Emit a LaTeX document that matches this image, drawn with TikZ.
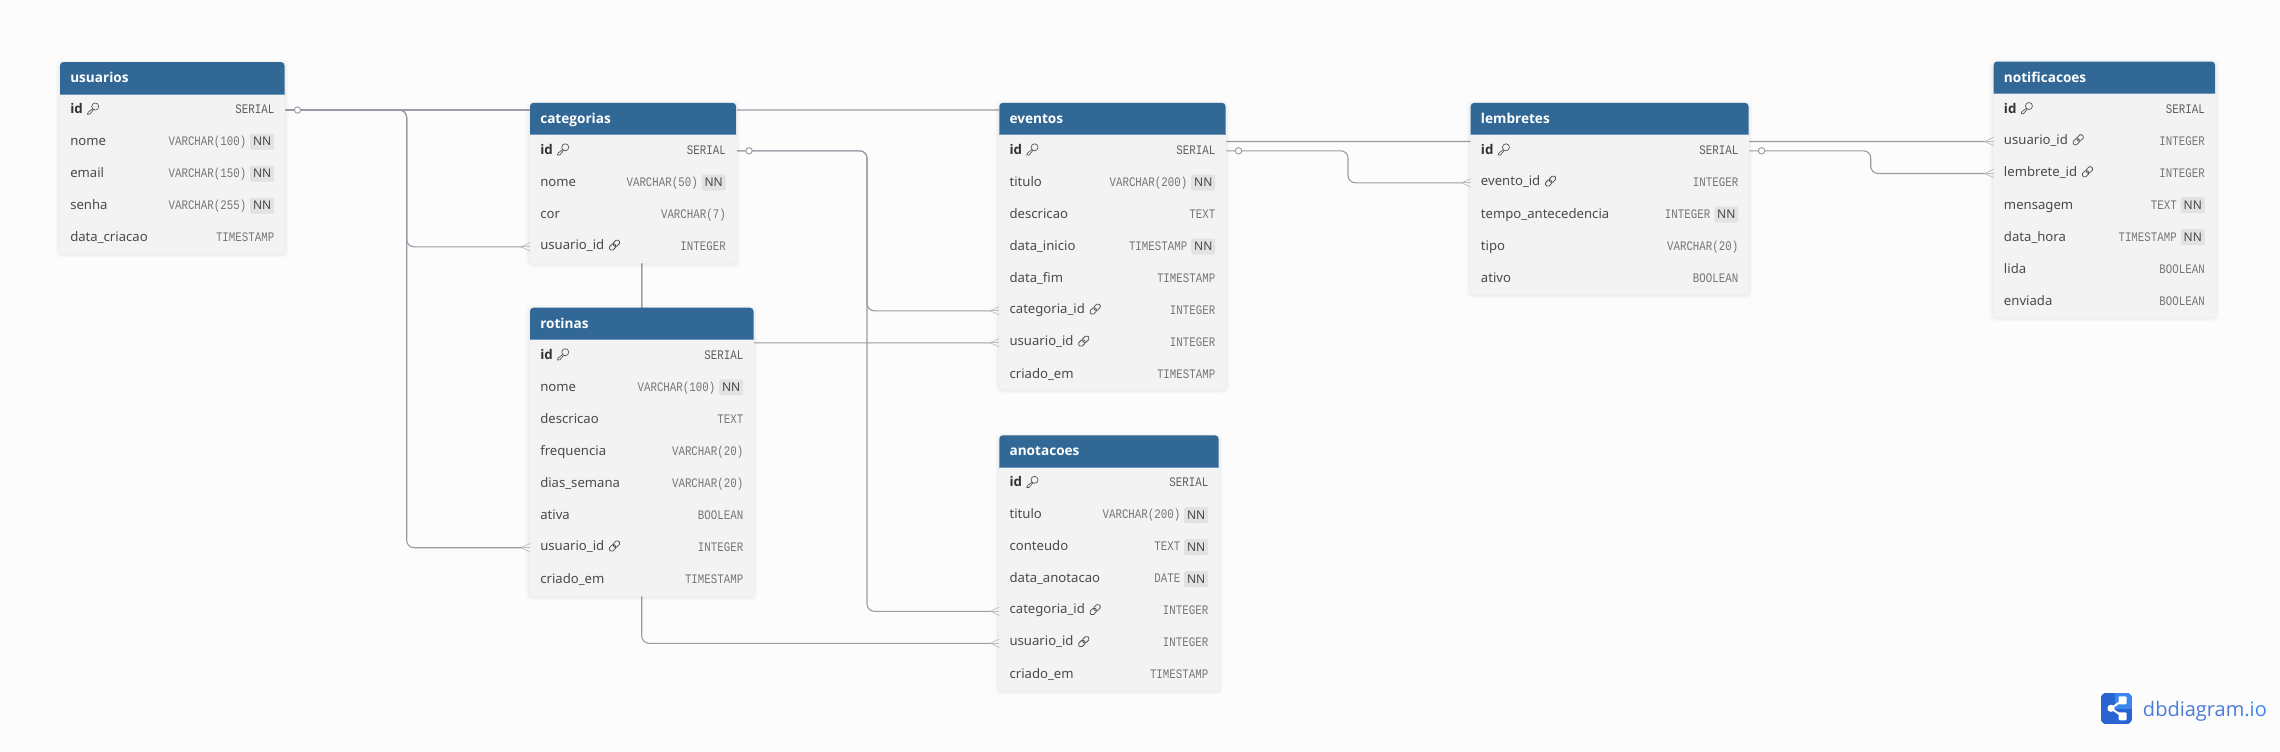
\documentclass[tikz,border=0pt]{standalone}
\usepackage{fontspec}
\setmainfont{Noto Sans}
\newfontfamily\monof[FakeStretch=0.825]{Liberation Mono}
\newfontfamily\logof{Open Sans}
\newfontfamily\boldf[BoldFont={Open Sans Bold}]{Open Sans}
\usetikzlibrary{calc,backgrounds}
\definecolor{canvas}{HTML}{FCFCFC}
\definecolor{hdr}{HTML}{316896}
\definecolor{hdrline}{HTML}{6F97BA}
\definecolor{panelc}{HTML}{F3F3F3}
\definecolor{wire}{HTML}{9A9AA4}
\definecolor{namec}{HTML}{4A4A4A}
\definecolor{typec}{HTML}{767676}
\definecolor{keyc}{HTML}{5E5E5E}
\definecolor{badge}{HTML}{E2E2E2}
\definecolor{logoa}{HTML}{2A64D2}
\definecolor{logob}{HTML}{3C86F2}
\tikzset{
  panelbox/.style={fill=panelc,rounded corners=3.5*0.75pt,inner sep=0pt,anchor=north west},
  rowbox/.style={inner sep=0pt,anchor=west,minimum height=24pt},
  tabletitle/.style={inner sep=0pt,anchor=base west,text=white,font=\boldf\bfseries\fontsize{10.2}{12}\selectfont},
  fieldname/.style={inner sep=0pt,anchor=base west,text=namec,font=\fontsize{9.85}{12}\selectfont},
  fieldkey/.style={inner sep=0pt,anchor=base west,text=black!80,font=\boldf\bfseries\fontsize{10}{12}\selectfont},
  fieldtype/.style={inner sep=0pt,anchor=base east,text=typec,font=\monof\fontsize{9.8}{12}\selectfont},
  keytype/.style={fieldtype,text=keyc},
  nnbadge/.style={inner sep=0pt,fill=badge,rounded corners=1.5pt,minimum width=18pt,minimum height=12pt,anchor=east,text=namec,font=\fontsize{9}{12}\selectfont},
  wireline/.style={draw=wire,line width=0.82pt,rounded corners=5.5pt},
  crowline/.style={draw=wire!65,line width=0.55pt},
  zerocirc/.style={circle,draw=wire,fill=canvas,line width=0.7pt,minimum size=4.8pt,inner sep=0pt},
  iconline/.style={draw=black!68,line width=0.5pt,line join=round,line cap=round},
  keyicon/.pic={
    \draw[iconline] (2.2,-2.2) circle[radius=3.5];
    \draw[iconline] (-0.3,0.1) -- (-4.8,3.4) -- (-5.6,5.6) -- (-3.2,5.4) -- (0.4,1.1);
  },
  linkicon/.pic={
    \begin{scope}[rotate=45]
      \draw[iconline,line width=0.6pt,rounded corners=1.2pt] (-6.2,-2.4) rectangle (0.8,2.4);
      \draw[iconline,line width=0.6pt,rounded corners=1.2pt] (-0.8,-2.4) rectangle (6.2,2.4);
    \end{scope}
  },
}
% #1 name, #2 title, #3 left, #4 top, #5 right, #6 bottom
\newcommand\tablebox[6]{%
  \foreach \sp/\op in {4/0.008,3/0.012,2/0.016,1/0.02}{
    \fill[black,opacity=\op,rounded corners=4pt] (#3-0.7-\sp,#4-\sp+1) rectangle (#5+0.7+\sp,#6+\sp+1);
  }
  \node[panelbox,minimum width={(#5-#3+1.4)*0.75pt},minimum height={(#6-#4)*0.75pt}] (#1) at (#3-0.7,#4) {};
  \fill[hdr] (#3,#4+32) {[rounded corners=2.6pt] -- (#3,#4) -- (#5,#4)} -- (#5,#4+32) -- cycle;
  \draw[hdrline,line width=0.5pt] (#3,#4+32) -- (#5,#4+32);
  \node[tabletitle] (#1-title) at (#3+10,#4+20.5) {#2};
  \def\curL{#3}\def\curR{#5}\pgfmathsetmacro\curY{#4+48}%
}
\newcommand\nextrow{\pgfmathsetmacro\curY{\curY+32}}
\newcommand\rowanchor[1]{\node[rowbox,minimum width={(\curR-\curL)*0.75pt}] (#1) at (\curL,\curY) {};}
% plain row
\newcommand\fld[3]{\rowanchor{#1}
  \node[fieldname] (#1-name) at (\curL+10,\curY+3.5) {#2};
  \node[fieldtype] (#1-type) at (\curR-10,\curY+3.5) {#3};\nextrow}
% primary key row
\newcommand\fldk[3]{\rowanchor{#1}
  \node[fieldkey] (#1-name) at (\curL+10,\curY+3.5) {#2};
  \pic at ($(#1-name.base east)+(10,-4.8)$) {keyicon};
  \node[keytype] (#1-type) at (\curR-10,\curY+3.5) {#3};\nextrow}
% foreign key row
\newcommand\fldl[3]{\rowanchor{#1}
  \node[fieldname] (#1-name) at (\curL+10,\curY+2.5) {#2};
  \pic at ($(#1-name.base east)+(10,-4.2)$) {linkicon};
  \node[fieldtype] (#1-type) at (\curR-10,\curY+3.5) {#3};\nextrow}
% not null row
\newcommand\fldn[3]{\rowanchor{#1}
  \node[fieldname] (#1-name) at (\curL+10,\curY+3.5) {#2};
  \node[nnbadge] (#1-nn) at (\curR-10,\curY-0.3) {NN};
  \node[fieldtype] (#1-type) at (\curR-38,\curY+3.5) {#3};\nextrow}
\newcommand\crowfoot[1]{
  \draw[crowline] ($(#1.west)+(-9,0)$) -- ($(#1.west)+(0,-4.2)$);
  \draw[crowline] ($(#1.west)+(-9,0)$) -- ($(#1.west)+(0,4.2)$);
  \draw[crowline] ($(#1.west)+(-9,0)$) -- (#1.west);}
\newcommand\zeroend[2]{\node[zerocirc] (#1) at ($(#2.east)+(12.5,0)$) {};}
% connector through a vertical bus, ending at the crow's foot tip
\newcommand\wirevia[3]{\draw[wireline] (#1.east) -- (#3 |- #1.east) -- (#3 |- #2.west) -- ($(#2.west)+(-8,0)$);}
\begin{document}
\begin{tikzpicture}[x=0.75pt,y=-0.75pt]
\useasboundingbox (0,0) rectangle (2280,751);

\tablebox{usuarios}{usuarios}{60}{62}{284.5}{253}
\fldk{usuarios-id}{id}{SERIAL}
\fldn{usuarios-nome}{nome}{VARCHAR(100)}
\fldn{usuarios-email}{email}{VARCHAR(150)}
\fldn{usuarios-senha}{senha}{VARCHAR(255)}
\fld{usuarios-criacao}{data\_criacao}{TIMESTAMP}

\tablebox{categorias}{categorias}{530}{102.8}{736}{263}
\fldk{categorias-id}{id}{SERIAL}
\fldn{categorias-nome}{nome}{VARCHAR(50)}
\fld{categorias-cor}{cor}{VARCHAR(7)}
\fldl{categorias-usuario}{usuario\_id}{INTEGER}

\tablebox{rotinas}{rotinas}{530}{307.7}{753.5}{596}
\fldk{rotinas-id}{id}{SERIAL}
\fldn{rotinas-nome}{nome}{VARCHAR(100)}
\fld{rotinas-descricao}{descricao}{TEXT}
\fld{rotinas-frequencia}{frequencia}{VARCHAR(20)}
\fld{rotinas-dias}{dias\_semana}{VARCHAR(20)}
\fld{rotinas-ativa}{ativa}{BOOLEAN}
\fldl{rotinas-usuario}{usuario\_id}{INTEGER}
\fld{rotinas-criado}{criado\_em}{TIMESTAMP}

\tablebox{eventos}{eventos}{999.3}{102.8}{1225.5}{389}
\fldk{eventos-id}{id}{SERIAL}
\fldn{eventos-titulo}{titulo}{VARCHAR(200)}
\fld{eventos-descricao}{descricao}{TEXT}
\fldn{eventos-inicio}{data\_inicio}{TIMESTAMP}
\fld{eventos-fim}{data\_fim}{TIMESTAMP}
\fldl{eventos-categoria}{categoria\_id}{INTEGER}
\fldl{eventos-usuario}{usuario\_id}{INTEGER}
\fld{eventos-criado}{criado\_em}{TIMESTAMP}

\tablebox{anotacoes}{anotacoes}{999.3}{435.3}{1218.5}{690.7}
\fldk{anotacoes-id}{id}{SERIAL}
\fldn{anotacoes-titulo}{titulo}{VARCHAR(200)}
\fldn{anotacoes-conteudo}{conteudo}{TEXT}
\fldn{anotacoes-data}{data\_anotacao}{DATE}
\fldl{anotacoes-categoria}{categoria\_id}{INTEGER}
\fldl{anotacoes-usuario}{usuario\_id}{INTEGER}
\fld{anotacoes-criado}{criado\_em}{TIMESTAMP}

\tablebox{lembretes}{lembretes}{1470.7}{102.8}{1748.5}{294}
\fldk{lembretes-id}{id}{SERIAL}
\fldl{lembretes-evento}{evento\_id}{INTEGER}
\fldn{lembretes-tempo}{tempo\_antecedencia}{INTEGER}
\fld{lembretes-tipo}{tipo}{VARCHAR(20)}
\fld{lembretes-ativo}{ativo}{BOOLEAN}

\tablebox{notificacoes}{notificacoes}{1993.7}{61.5}{2215}{317}
\fldk{notificacoes-id}{id}{SERIAL}
\fldl{notificacoes-usuario}{usuario\_id}{INTEGER}
\fldl{notificacoes-lembrete}{lembrete\_id}{INTEGER}
\fldn{notificacoes-mensagem}{mensagem}{TEXT}
\fldn{notificacoes-hora}{data\_hora}{TIMESTAMP}
\fld{notificacoes-lida}{lida}{BOOLEAN}
\fld{notificacoes-enviada}{enviada}{BOOLEAN}

\coordinate (busA) at (406.7,0);
\coordinate (busB) at (641.7,0);
\coordinate (busC) at (867,0);
\coordinate (busD) at (1348,0);
\coordinate (busE) at (1870.7,0);
\coordinate (busF) at (1110,0);

\begin{pgfonlayer}{background}
  \fill[canvas] (0,0) rectangle (2280,751);
  \wirevia{usuarios-id}{categorias-usuario}{busA}
  \wirevia{usuarios-id}{rotinas-usuario}{busA}
  \wirevia{usuarios-id}{eventos-usuario}{busB}
  \wirevia{usuarios-id}{anotacoes-usuario}{busB}
  \wirevia{usuarios-id}{notificacoes-usuario}{busF}
  \wirevia{categorias-id}{eventos-categoria}{busC}
  \wirevia{categorias-id}{anotacoes-categoria}{busC}
  \wirevia{eventos-id}{lembretes-evento}{busD}
  \wirevia{lembretes-id}{notificacoes-lembrete}{busE}
\end{pgfonlayer}

\zeroend{zero-usuarios}{usuarios-id}
\zeroend{zero-categorias}{categorias-id}
\zeroend{zero-eventos}{eventos-id}
\zeroend{zero-lembretes}{lembretes-id}
\crowfoot{categorias-usuario}
\crowfoot{rotinas-usuario}
\crowfoot{eventos-categoria}
\crowfoot{eventos-usuario}
\crowfoot{anotacoes-categoria}
\crowfoot{anotacoes-usuario}
\crowfoot{lembretes-evento}
\crowfoot{notificacoes-usuario}
\crowfoot{notificacoes-lembrete}

% logo
\begin{scope}
  \clip[rounded corners=4.5pt] (2100.7,692.7) rectangle (2132,724.3);
  \fill[logoa] (2100.7,692.7) rectangle (2132,724.3);
  \fill[logob] (2115,692.7) rectangle (2132,708.5);
\end{scope}
\draw[white,line width=1.5pt] (2122.5,700.3) -- (2111,708.3) -- (2122.5,716.3);
\fill[white] (2111,708.3) circle[radius=3.6];
\fill[white,rounded corners=0.8pt] (2118.5,696.3) rectangle (2126.5,704.3);
\fill[white,rounded corners=0.8pt] (2118.5,712.3) rectangle (2126.5,720.3);
\node[inner sep=0pt,anchor=base west,font=\logof\fontsize{15}{18}\selectfont,text=logoa!85!white] (logotext) at (2142.7,716) {dbdiagram\textcolor{logob}{.io}};
\end{tikzpicture}
\end{document}
